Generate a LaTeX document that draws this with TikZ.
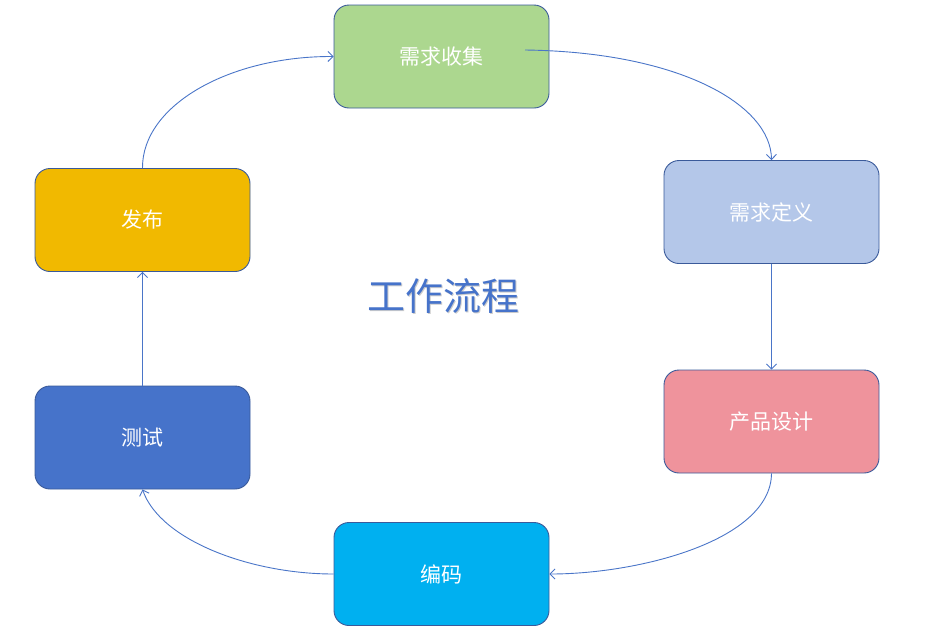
\documentclass[tikz,border=0pt]{standalone}
\usepackage{fontspec}
\newfontfamily\cjk{Noto Sans CJK SC}
\usetikzlibrary{arrows.meta}
\definecolor{cgreen}{HTML}{ACD78F}
\definecolor{cgray}{HTML}{B4C7E9}
\definecolor{cpink}{HTML}{EF939C}
\definecolor{ccyan}{HTML}{00B0F0}
\definecolor{cblue}{HTML}{4673CA}
\definecolor{cyellow}{HTML}{F1B900}
\definecolor{cedge}{HTML}{3A5A9A}
\definecolor{cline}{HTML}{4A75C8}
\tikzset{
  stepbox/.style={draw=cedge, line width=0.9pt, rounded corners=15pt,
    minimum width=215pt, minimum height=103pt, inner sep=0pt,
    text=white, font=\cjk\fontsize{21}{21}\selectfont},
  link/.style={draw=cline, line width=0.9pt, -{Straight Barb[length=5pt,width=10pt]}}
}
\begin{document}
\begin{tikzpicture}[x=1pt,y=-1pt]
\useasboundingbox (0,0) rectangle (927,633);
\node[stepbox, fill=cgreen] (n1) at (441.5,56.5) {需求收集};
\node[stepbox, fill=cgray] (n2) at (771.5,212) {需求定义};
\node[stepbox, fill=cpink] (n3) at (771.5,421.5) {产品设计};
\node[stepbox, fill=ccyan] (n4) at (441.5,574) {编码};
\node[stepbox, fill=cblue] (n5) at (142.5,437.5) {测试};
\node[stepbox, fill=cyellow] (n6) at (142.5,220) {发布};
\node[text=gray!40, font=\cjk\fontsize{38}{38}\selectfont] at (444.5,297.5) {工作流程};
\node[text=cblue, font=\cjk\fontsize{38}{38}\selectfont] (title) at (443.5,296.5) {工作流程};
\coordinate (s1) at (525,50);
\draw[link] (s1) .. controls (680,52) and (771,105) .. (n2.north);
\draw[link] (n2.south) -- (n3.north);
\draw[link] (n3.south) .. controls (771,540) and (640,574) .. (n4.east);
\draw[link] (n4.west) .. controls (250,574) and (160,540) .. (n5.south);
\draw[link] (n5.north) -- (n6.south);
\draw[link] (n6.north) .. controls (142,105) and (230,56) .. (n1.west);
\end{tikzpicture}
\end{document}
